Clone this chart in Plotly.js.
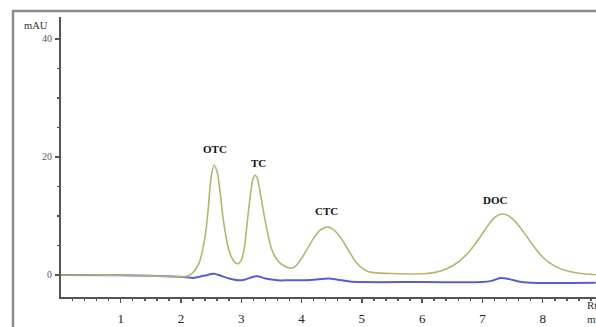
<!DOCTYPE html>
<html>
<head>
<meta charset="utf-8">
<script src="https://cdn.plot.ly/plotly-3.0.1.min.js"></script>
<style>html,body{margin:0;padding:0;background:#fff;}#chart{width:596px;height:327px;}</style>
</head>
<body>
<div id="chart"></div>
<script>
// Retention time (min) and absorbance (mAU)
const timeStd = [0, 0.5, 1.0, 1.5, 2.0, 2.1, 2.2, 2.3, 2.4, 2.45, 2.5, 2.55, 2.6, 2.65, 2.7, 2.8, 2.9, 2.95, 3.0, 3.05, 3.1, 3.15, 3.2, 3.23, 3.27, 3.3, 3.4, 3.5, 3.6, 3.7, 3.8, 3.85, 3.9, 4.0, 4.1, 4.2, 4.3, 4.4, 4.45, 4.5, 4.6, 4.7, 4.8, 4.9, 5.0, 5.1, 5.2, 5.5, 6.0, 6.2, 6.4, 6.6, 6.8, 7.0, 7.1, 7.2, 7.3, 7.4, 7.5, 7.6, 7.8, 8.0, 8.2, 8.4, 8.6, 8.88];
const mauStd  = [0, 0, -0.05, -0.15, -0.3, -0.2, 0.4, 2.0, 6.5, 11, 16.5, 18.6, 17.5, 14, 9.5, 4, 2.1, 1.9, 2.5, 4.5, 9, 13.5, 16.5, 16.9, 16.3, 14.8, 9, 4.5, 2.5, 1.6, 1.2, 1.2, 1.5, 2.8, 4.5, 6.2, 7.5, 8.1, 8.1, 7.9, 7.0, 5.5, 3.8, 2.2, 1.2, 0.6, 0.4, 0.25, 0.2, 0.4, 1.0, 2.2, 4.2, 7.0, 8.5, 9.7, 10.3, 10.2, 9.5, 8.4, 5.6, 3.0, 1.5, 0.7, 0.3, 0.05];

const timeBlank = [0, 1.0, 1.5, 2.0, 2.1, 2.2, 2.3, 2.4, 2.5, 2.55, 2.65, 2.8, 2.95, 3.05, 3.2, 3.27, 3.4, 3.6, 3.8, 4.0, 4.2, 4.45, 4.6, 4.8, 5.0, 6.0, 7.0, 7.15, 7.3, 7.45, 7.6, 7.8, 8.88];
const mauBlank  = [0, -0.05, -0.15, -0.3, -0.4, -0.5, -0.3, -0.1, 0.15, 0.2, -0.1, -0.6, -0.9, -0.8, -0.3, -0.2, -0.6, -0.9, -0.9, -0.9, -0.8, -0.6, -0.8, -1.1, -1.2, -1.2, -1.2, -1.0, -0.5, -0.7, -1.1, -1.3, -1.3];

const peakNames = ["OTC", "TC", "CTC", "DOC"];
const peakLabelX = [2.56, 3.28, 4.42, 7.21];
const peakLabelY = [21.3, 19.0, 10.8, 12.7];

const xTicks = [1, 2, 3, 4, 5, 6, 7, 8];
const yTicks = [0, 20, 40];

const traces = [
  {x: timeBlank, y: mauBlank, mode: 'lines', line: {color: '#5b5bd6', width: 2, shape: 'spline', smoothing: 0.8}, hoverinfo: 'skip'},
  {x: timeStd, y: mauStd, mode: 'lines', line: {color: '#b5b572', width: 1.6, shape: 'spline', smoothing: 0.8}, hoverinfo: 'skip'}
];

const serif = 'Liberation Serif, Times New Roman, serif';
const annotations = peakNames.map((n, i) => ({
  x: peakLabelX[i], y: peakLabelY[i], xref: 'x', yref: 'y', text: '<b>' + n + '</b>',
  showarrow: false, font: {family: serif, size: 11, color: '#111'}
}));
annotations.push({xref: 'paper', yref: 'paper', x: -0.073, y: 0.968, xanchor: 'left', yanchor: 'middle', text: 'mAU', showarrow: false,
  font: {family: serif, size: 10.5, color: '#333'}});
annotations.push({xref: 'paper', yref: 'paper', x: 0.979, y: 0.0, xanchor: 'left', yanchor: 'top', align: 'left',
  text: 'Rt<br>min', showarrow: false, font: {family: serif, size: 11, color: '#333'}});

const layout = {
  width: 596, height: 327,
  margin: {l: 61, r: 0, t: 17, b: 30},
  paper_bgcolor: '#fff', plot_bgcolor: '#fff',
  showlegend: false,
  xaxis: {
    range: [0.01, 8.884], tickmode: 'array', tickvals: xTicks, ticktext: xTicks.map(String),
    showgrid: false, zeroline: false, showline: true, linecolor: '#555', linewidth: 2,
    ticks: 'outside', ticklen: 4, tickwidth: 1.5, tickcolor: '#555',
    tickfont: {family: serif, size: 13, color: '#222'}, ticklabelstandoff: 4,
    minor: {tickmode: 'linear', tick0: 0, dtick: 0.2, ticks: 'outside', ticklen: 2, tickwidth: 1.5, tickcolor: '#555', showgrid: false}
  },
  yaxis: {
    range: [-3.73, 43.7], tickmode: 'array', tickvals: yTicks, ticktext: yTicks.map(String),
    showgrid: false, zeroline: false, showline: true, linecolor: '#555', linewidth: 2,
    ticks: 'outside', ticklen: 4, tickwidth: 1.5, tickcolor: '#555',
    tickfont: {family: serif, size: 10, color: '#555'}, ticklabelstandoff: 1,
    minor: {tickmode: 'linear', tick0: 0, dtick: 5, ticks: 'outside', ticklen: 2, tickwidth: 1.5, tickcolor: '#555', showgrid: false}
  },
  shapes: [{type: 'rect', xref: 'paper', yref: 'paper', x0: -0.0897, x1: 1.2, y0: -0.3, y1: 1.0214,
    line: {color: '#8c8c8c', width: 2.5}, fillcolor: 'rgba(0,0,0,0)', layer: 'below'}],
  annotations: annotations
};

Plotly.newPlot('chart', traces, layout, {displayModeBar: false, staticPlot: true});
</script>
</body>
</html>
